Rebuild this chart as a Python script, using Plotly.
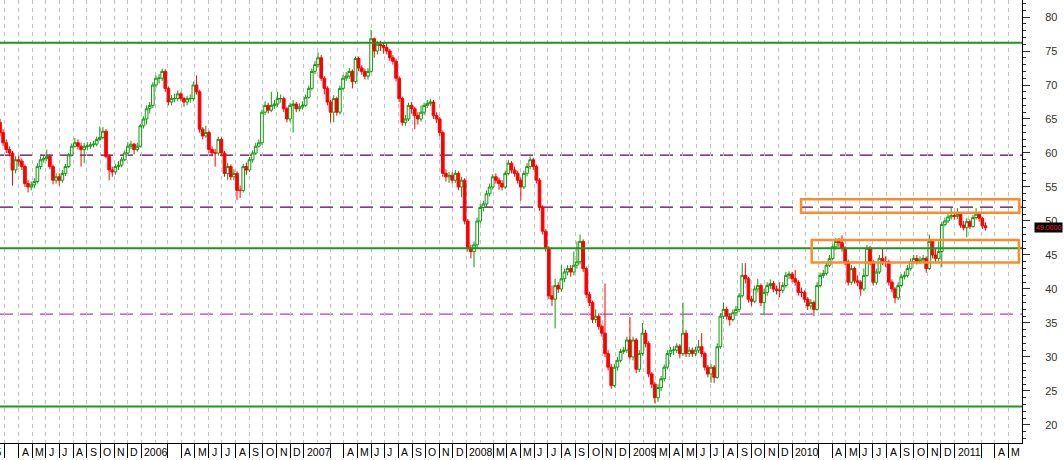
import plotly.graph_objects as go
import pandas as pd

# ---------------- data (weekly bars) ----------------
first_week = "2005-02-18"

opens = [
    64.5, 63, 61.5, 60.5, 60, 57.5, 59, 58.8, 58, 55.5,
    55, 55.3, 55.8, 58, 59, 59.2, 59.5, 58, 56, 56.5,
    56, 57, 58, 59.7, 61, 61.5, 61, 60.5, 61, 61,
    61.2, 61.3, 62, 62.3, 63.2, 59.5, 57.5, 57.2, 58, 58.2,
    59, 60, 61, 61.3, 60.5, 61, 64, 65, 66.5, 67,
    70, 71, 71, 72, 69.5, 67.5, 68, 68, 68.7, 68,
    67.5, 68, 68, 70, 69, 63.5, 62.5, 63, 60.5, 60,
    60, 62, 60, 57, 58, 56.5, 57, 54.5, 54.5, 58,
    57.5, 59, 60, 61,
    61.5, 66, 67, 66.3, 67, 67.2, 68, 68, 66.5, 65,
    67, 67.2, 66.5, 66.8, 67, 68.2, 69.5, 72, 73, 74,
    71, 69.5, 67.5, 66, 68, 66, 69.5, 71, 71.3, 72,
    70.5, 73.9, 72.5, 72, 71.3, 72, 76.8, 75, 76, 75.8,
    75.5, 75, 74, 73.5, 71, 68, 64.5, 65, 67, 66.5,
    65.5, 65, 66, 67, 67.3, 67.5, 65.5, 65, 63, 57,
    56.5, 56.7, 56, 57, 55, 56, 50, 46, 45.5, 46.5,
    50, 52, 52.5, 54, 55, 56.5, 56, 55.5, 55, 57,
    58.5, 57.5,
    57, 56, 55, 57, 58, 59, 58, 56, 52, 48.5,
    46, 39, 38.5, 40.5, 40, 41.5, 42.5, 43, 42.5, 43.5,
    44, 47, 43, 39.2, 38, 35.5, 36, 34.5, 33.5, 30.5,
    28.5, 25.8, 28.5, 29.5, 30.8, 31, 32.5, 30, 32.5, 28.2,
    30.5, 33.5, 32, 27.5, 26, 24, 25.5, 26.8, 28.5, 30.5,
    31, 31, 31.6, 30.5, 33.5, 30.5, 31, 30.5, 31, 31.5,
    30.5, 28.5, 27.5, 28.5, 27, 31.5, 36, 37, 36, 35.5,
    36.5, 37, 39, 42, 41.5, 38.5, 38.2, 40,
    40.5, 38, 39.5, 40.5, 40.8, 40, 39.8, 39.8, 40.5, 42,
    42.2, 41.5, 41, 39.5, 39.5, 38.5, 37.5, 38, 37, 40.5,
    42, 42.3, 43.5, 44.5, 46.2, 47, 46.8, 46, 44, 41,
    43, 41.2, 41, 40, 42, 46, 44, 41, 42.5, 44.5,
    44, 44, 41, 40, 38.7, 40.5, 41.8, 42, 43, 44,
    44.5, 44, 44.3, 44.5, 43, 47, 45, 44.5, 45.5, 49.5,
    50, 50.6, 50.8, 50.7, 51, 49.4, 49, 49.9, 49.2, 50.5,
    51, 50.4, 49.3,
]

highs = [
    65, 63.5, 62, 61, 60.3, 59.5, 59.6, 59.2, 58.3, 56,
    55.8, 56.3, 58.5, 59.5, 59.6, 60.5, 59.8, 58.3, 57, 57,
    57.5, 58.4, 60, 61.4, 62.2, 62, 61.5, 61.5, 61.6, 61.6,
    61.8, 62.4, 63.9, 63.8, 63.5, 59.8, 58, 58.4, 58.8, 59.4,
    60.4, 61.6, 61.8, 61.5, 61.5, 64.3, 65.4, 67, 67.5, 70.4,
    71.4, 71.6, 72.4, 72.3, 69.8, 68.5, 68.7, 69.2, 69, 68.3,
    68.4, 68.6, 70.5, 71.4, 69.3, 63.8, 64, 63.3, 61, 60.6,
    62.4, 62.3, 60.3, 58.5, 58.3, 57.6, 57.3, 55.2, 58.4, 58.6,
    59.4, 60.4, 61.5, 62,
    66.4, 67.6, 67.4, 69, 67.8, 69, 68.6, 68.3, 66.8, 67.4,
    67.8, 67.5, 67.3, 67.6, 68.6, 69.9, 72.4, 73.5, 74.8, 74.4,
    71.3, 69.8, 67.8, 68.5, 68.3, 69.9, 71.5, 71.9, 72.5, 72.3,
    74.2, 74.2, 72.9, 72.4, 72.5, 78.1, 77, 76.5, 76.5, 76.3,
    76.2, 75.3, 74.4, 73.8, 71.3, 68.3, 65.6, 67.4, 67.5, 66.8,
    66, 67, 67.4, 67.8, 68, 67.8, 66, 65.3, 63.3, 57.6,
    57.2, 57.2, 57.5, 57.3, 56.5, 56.3, 50.3, 46.5, 47, 50.5,
    52.5, 53, 54.5, 55.5, 56.9, 57, 56.4, 56, 57.4, 59,
    58.8, 58,
    57.4, 56.4, 57.4, 58.5, 59.5, 59.3, 58.3, 56.3, 52.3, 48.8,
    46.3, 40.5, 41.5, 41, 43.5, 43, 43.5, 43.5, 45.5, 47,
    48, 47.3, 43.3, 39.6, 38.3, 37, 36.4, 34.8, 40.8, 31,
    29, 29, 30, 31.2, 31.5, 33, 35.9, 33, 32.8, 31,
    35, 34, 32.3, 27.8, 26.3, 26, 27.2, 28.9, 31, 31.5,
    31.6, 32, 31.9, 38, 34, 31.5, 31.4, 31.5, 32.5, 33.5,
    30.8, 28.8, 29, 28.8, 32, 36.4, 38, 37.4, 36.4, 37,
    37.5, 39.4, 43.8, 43.8, 41.8, 39, 40.5, 41.5,
    40.8, 40, 41, 41.4, 41.2, 40.5, 41, 41, 42.5, 42.6,
    42.5, 42.8, 41.3, 40.2, 39.8, 38.8, 38.5, 38.3, 41, 42.4,
    42.8, 43.9, 45, 46.6, 47.5, 47.5, 47.9, 46.3, 44.3, 43.5,
    43.3, 42, 41.3, 43, 46.5, 46.3, 44.3, 43, 45, 46,
    44.8, 44.3, 41.4, 40.3, 41, 42.2, 42.6, 43.5, 44.5, 45,
    45, 44.8, 45, 44.8, 48, 47.3, 46, 47, 49.9, 50.5,
    51, 51.9, 51.3, 51.9, 51.3, 50, 50.4, 50.2, 50.9, 51.9,
    51.3, 50.6, 49.8,
]

lows = [
    62.5, 61, 60, 59.5, 55.2, 57, 58, 57.5, 55, 54.2,
    54.5, 54.8, 55.5, 57.6, 58.6, 58.8, 57.6, 55.4, 55.5, 55.2,
    55.6, 56.6, 57.8, 59.5, 60.8, 60.5, 58, 58.5, 60.4, 60.6,
    60.8, 61, 61.8, 62, 59.2, 56, 56.5, 56.8, 57.5, 57.9,
    58.8, 59.8, 60.6, 59.8, 60.2, 60.8, 63.6, 64.2, 65.8, 66.6,
    69.6, 70.2, 70.6, 69, 67, 67, 67.5, 67.6, 67.6, 66.8,
    67, 67.4, 67.6, 68.6, 63, 62, 62.2, 60, 59.5, 58,
    59.6, 59.5, 56.5, 56, 56, 56, 53.1, 53.4, 54.2, 56.8,
    57.2, 58.6, 59.7, 60.8,
    61.2, 65.6, 65.8, 66, 66.5, 66.8, 67.4, 66, 64.5, 64.6,
    63, 66, 66.1, 66.4, 66.8, 68, 69.2, 71.6, 72.6, 70.6,
    68.6, 67, 64.5, 64.5, 65.5, 65.7, 69.2, 70.6, 70.9, 69.5,
    70.2, 72, 71.5, 70.8, 70.8, 71.8, 74, 74.5, 75, 74.6,
    74.5, 73.5, 73, 70.5, 67.5, 64, 64, 64.7, 65.8, 63.5,
    64.2, 64.6, 65.6, 66.6, 66.9, 65, 64.4, 62.5, 56.5, 55.8,
    55.6, 55.5, 55.6, 54.5, 53.5, 49.5, 45.5, 44.5, 43.2, 46,
    49.6, 51.4, 52, 53.6, 54.6, 55.5, 54.6, 54.5, 54.7, 56.7,
    57, 56.5,
    55.5, 53, 54.7, 56.6, 57.6, 57.5, 55.5, 51.5, 48, 45.5,
    38.5, 37.5, 34.2, 39.4, 39.6, 41, 42, 41.8, 42, 43,
    43.6, 42.5, 38.7, 37.5, 35, 35, 34, 33, 30, 28,
    25.3, 25.5, 28, 29.2, 30.4, 30.6, 29.6, 29.5, 27.6, 27.8,
    30.2, 31.4, 27, 25.4, 23.2, 23.4, 25, 26.4, 28.2, 30,
    30.3, 30.6, 29.8, 30.2, 30, 30, 30, 30.1, 30.6, 30,
    28, 27, 26.2, 26.2, 26.8, 31.2, 35.6, 35.5, 34.6, 35.2,
    36, 36.6, 38.7, 40.8, 38, 37.5, 37.9, 39.5,
    37.5, 36.2, 39, 40, 39.5, 39.2, 38.8, 39.4, 40.2, 41.5,
    41, 40.5, 39, 38.8, 38, 36.9, 37, 36, 36.8, 40.2,
    41.6, 42, 43.2, 44.2, 45.8, 46.2, 45.5, 43.5, 40.5, 40.6,
    40.8, 40.4, 39, 39.7, 41.8, 43.5, 40.5, 40.6, 42.2, 43.5,
    43.2, 40.5, 39.5, 37.9, 38.4, 40.2, 41.4, 41.7, 42.7, 43.7,
    43.6, 43.7, 43.9, 42.4, 42.8, 44.5, 44, 44, 43.2, 49.2,
    49.7, 50.2, 50.2, 50.3, 49, 48.6, 47.6, 48.8, 49, 50.2,
    49.9, 48.8, 48.6,
]

closes = [
    63, 61.5, 60.5, 60, 57.5, 59, 58.8, 58, 55.5, 55,
    55.3, 55.8, 58, 59, 59.2, 59.5, 58, 56, 56.5, 56,
    57, 58, 59.7, 61, 61.5, 61, 60.5, 61, 61, 61.2,
    61.3, 62, 62.3, 63.2, 59.5, 57.5, 57.2, 58, 58.2, 59,
    60, 61, 61.3, 60.5, 61, 64, 65, 66.5, 67, 70,
    71, 71, 72, 69.5, 67.5, 68, 68, 68.7, 68, 67.5,
    68, 68, 70, 69, 63.5, 62.5, 63, 60.5, 60, 60,
    62, 60, 57, 58, 56.5, 57, 54.5, 54.5, 58, 57.5,
    59, 60, 61, 61.5,
    66, 67, 66.3, 67, 67.2, 68, 68, 66.5, 65, 67,
    67.2, 66.5, 66.8, 67, 68.2, 69.5, 72, 73, 74, 71,
    69.5, 67.5, 66, 68, 66, 69.5, 71, 71.3, 72, 70.5,
    73.9, 72.5, 72, 71.3, 72, 76.8, 75, 76, 75.8, 75.5,
    75, 74, 73.5, 71, 68, 64.5, 65, 67, 66.5, 65.5,
    65, 66, 67, 67.3, 67.5, 65.5, 65, 63, 57, 56.5,
    56.7, 56, 57, 55, 56, 50, 46, 45.5, 46.5, 50,
    52, 52.5, 54, 55, 56.5, 56, 55.5, 55, 57, 58.5,
    57.5, 57,
    56, 55, 57, 58, 59, 58, 56, 52, 48.5, 46,
    39, 38.5, 40.5, 40, 41.5, 42.5, 43, 42.5, 43.5, 44,
    47, 43, 39.2, 38, 35.5, 36, 34.5, 33.5, 30.5, 28.5,
    25.8, 28.5, 29.5, 30.8, 31, 32.5, 30, 32.5, 28.2, 30.5,
    33.5, 32, 27.5, 26, 24, 25.5, 26.8, 28.5, 30.5, 31,
    31, 31.6, 30.5, 33.5, 30.5, 31, 30.5, 31, 31.5, 30.5,
    28.5, 27.5, 28.5, 27, 31.5, 36, 37, 36, 35.5, 36.5,
    37, 39, 42, 41.5, 38.5, 38.2, 40, 40.5,
    38, 39.5, 40.5, 40.8, 40, 39.8, 39.8, 40.5, 42, 42.2,
    41.5, 41, 39.5, 39.5, 38.5, 37.5, 38, 37, 40.5, 42,
    42.3, 43.5, 44.5, 46.2, 47, 46.8, 46, 44, 41, 43,
    41.2, 41, 40, 42, 46, 44, 41, 42.5, 44.5, 44,
    44, 41, 40, 38.7, 40.5, 41.8, 42, 43, 44, 44.5,
    44, 44.3, 44.5, 43, 47, 45, 44.5, 45.5, 49.5, 50,
    50.6, 50.8, 50.7, 51, 49.4, 49, 49.9, 49.2, 50.5, 51,
    50.4, 49.3, 49,
]

assert len(opens) == len(highs) == len(lows) == len(closes), (
    len(opens), len(highs), len(lows), len(closes))

# horizontal reference levels
green_levels = [76.2, 46.0, 22.7]
dark_dash_levels = [59.7, 52.05]
magenta_dash_levels = [36.3]

# orange zones
zone_start = ["2010-01-21", "2010-02-14"]
zone_end = ["2011-05-26", "2011-05-25"]
zone_low = [51.2, 43.9]
zone_high = [53.2, 47.2]

# x-axis month labels (Jan 2005 .. May 2011)
month_labels = (
    ["2005", "", "", "A", "M", "J", "J", "A", "S", "O", "N", "D"]
    + ["2006", "", "", "A", "M", "J", "J", "A", "S", "O", "N", "D"]
    + ["2007", "", "", "A", "M", "J", "J", "A", "S", "O", "N", "D"]
    + ["2008", "", "M", "A", "M", "J", "J", "A", "S", "O", "N", "D"]
    + ["2009", "", "M", "A", "M", "J", "J", "A", "S", "O", "N", "D"]
    + ["2010", "", "", "A", "M", "J", "J", "A", "S", "O", "N", "D"]
    + ["2011", "", "", "A", "M"]
)

x_start = pd.Timestamp("2005-02-18")
x_end = pd.Timestamp("2011-06-01")
y_min, y_max = 17.35, 82.5

# ---------------- figure ----------------
dates = pd.date_range(first_week, periods=len(closes), freq="W-FRI")
month_starts = pd.date_range("2005-01-01", periods=len(month_labels), freq="MS")

FONT = "Liberation Sans, Arial, sans-serif"
GREEN_C = "#0f9a0f"
RED_C = "#ff0000"

fig = go.Figure()
fig.add_trace(go.Candlestick(
    x=dates, open=opens, high=highs, low=lows, close=closes,
    increasing=dict(line=dict(color=GREEN_C, width=1), fillcolor="white"),
    decreasing=dict(line=dict(color=RED_C, width=1), fillcolor=RED_C),
    whiskerwidth=0,
    hoverinfo="skip",
    showlegend=False,
))

for v in green_levels:
    fig.add_shape(type="line", xref="paper", x0=0, x1=1, yref="y", y0=v, y1=v,
                  line=dict(color="#1c961c", width=2), layer="above")
for v in dark_dash_levels:
    fig.add_shape(type="line", xref="paper", x0=0, x1=1, yref="y", y0=v, y1=v,
                  line=dict(color="#5a005a", width=1.3, dash="13px,7px"), layer="below")
for v in magenta_dash_levels:
    fig.add_shape(type="line", xref="paper", x0=0, x1=1, yref="y", y0=v, y1=v,
                  line=dict(color="#b040b0", width=1.3, dash="13px,7px"), layer="below")

for xs, xe, lo, hi in zip(zone_start, zone_end, zone_low, zone_high):
    fig.add_shape(type="rect", xref="x", yref="y", x0=xs, x1=xe, y0=lo, y1=hi,
                  line=dict(color="#ff8a2a", width=2.5), fillcolor="rgba(0,0,0,0)",
                  layer="above")

# month labels along the bottom axis
LABEL_FONT = dict(family=FONT, size=10.5, color="#000")
for d, txt in zip(month_starts, month_labels):
    if not txt:
        continue
    if d < x_start:
        fig.add_annotation(x=x_start, xref="x", y=0, yref="paper", yanchor="top",
                           xanchor="right", xshift=4, yshift=-1, text=txt,
                           showarrow=False, font=LABEL_FONT)
    else:
        fig.add_annotation(x=d, xref="x", y=0, yref="paper", yanchor="top",
                           xanchor="left", xshift=1, yshift=-1, text=txt,
                           showarrow=False, font=LABEL_FONT)

# last price marker on the price axis
fig.add_annotation(x=1, xref="paper", y=closes[-1], yref="y", xanchor="left",
                   xshift=12, text=f"{closes[-1]:.4f}", showarrow=False,
                   bgcolor="black", borderpad=1,
                   font=dict(family=FONT, size=7, color="#ff2020"))

sep_months = [d for d in month_starts if d.month != 2]
feb_months = [d for d in month_starts if d.month == 2]

fig.update_layout(
    width=1064, height=460,
    margin=dict(l=0, r=42, t=0, b=17),
    paper_bgcolor="white", plot_bgcolor="white",
    showlegend=False,
    hovermode=False,
    boxgap=0.15, boxgroupgap=0,
    font=dict(family=FONT, size=11, color="#222"),
    xaxis=dict(
        type="date",
        range=[x_start, x_end],
        rangeslider=dict(visible=False),
        tickmode="array", tickvals=sep_months, ticktext=["" for _ in sep_months],
        showticklabels=False,
        ticks="outside", ticklen=14, tickwidth=1, tickcolor="black",
        showgrid=True, gridcolor="#c4c4c4", gridwidth=1, griddash="4px,4px",
        minor=dict(tickmode="array", tickvals=feb_months, showgrid=True,
                   gridcolor="#c4c4c4", gridwidth=1, griddash="4px,4px", ticks=""),
        showline=True, linecolor="black", linewidth=1,
        zeroline=False, fixedrange=True,
    ),
    yaxis=dict(
        side="right",
        range=[y_min, y_max],
        tickmode="linear", tick0=0, dtick=5,
        ticks="outside", ticklen=7, tickwidth=1, tickcolor="#333",
        minor=dict(dtick=1, ticks="outside", ticklen=3, tickcolor="#333", showgrid=False),
        ticklabelstandoff=13,
        tickfont=dict(family=FONT, size=11, color="#333"),
        showgrid=False, zeroline=False,
        showline=True, linecolor="black", linewidth=1,
        fixedrange=True,
    ),
)

fig.write_html(
    "out.html",
    config={"displayModeBar": False},
    post_script="document.body.style.margin='0px';"
                "document.documentElement.style.overflow='hidden';"
                "document.body.style.overflow='hidden';",
)
